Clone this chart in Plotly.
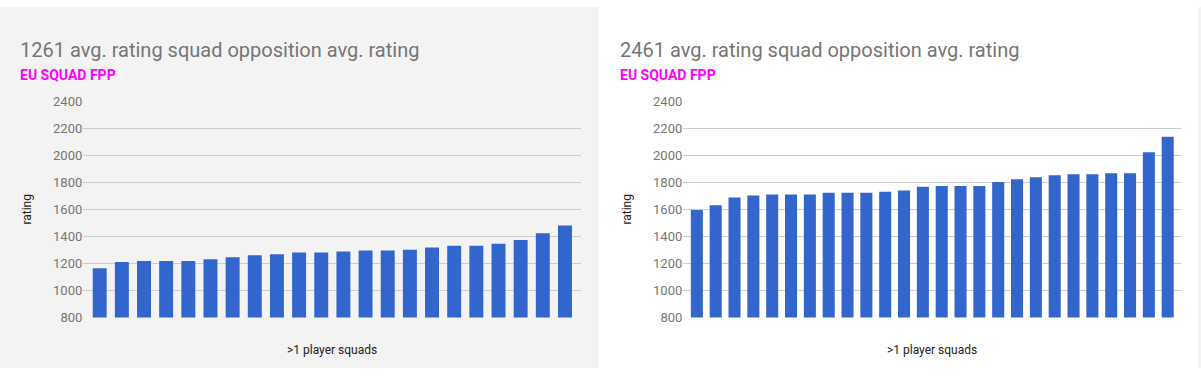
import plotly.graph_objects as go

W, H = 1201, 376

# ---- data ----
left_title = "1261 avg. rating squad opposition avg. rating"
right_title = "2461 avg. rating squad opposition avg. rating"
subtitle = "EU SQUAD FPP"
x_title = ">1 player squads"
y_title = "rating"

left_values = [1164, 1210, 1217, 1217, 1217, 1231, 1245, 1260, 1267, 1281, 1281,
               1288, 1295, 1295, 1302, 1317, 1331, 1331, 1345, 1374, 1424, 1481]
right_values = [1595, 1631, 1688, 1702, 1710, 1710, 1710, 1724, 1724, 1724, 1731,
                1740, 1767, 1774, 1774, 1774, 1802, 1824, 1838, 1852, 1860, 1860,
                1867, 1867, 2024, 2138]
left_cats = list(range(len(left_values)))
right_cats = list(range(len(right_values)))
y_ticks = [800, 1000, 1200, 1400, 1600, 1800, 2000, 2200, 2400]

BAR = "#3366cc"
GRID = "#cccccc"
TXT = "#757575"
FONT = "Roboto"


def px_x(p):
    return p / W


def px_y(p):
    return 1 - p / H


fig = go.Figure()
fig.add_trace(go.Bar(x=left_cats, y=left_values, marker=dict(color=BAR, line=dict(width=0)),
                     xaxis="x", yaxis="y", width=0.63, hoverinfo="y"))
fig.add_trace(go.Bar(x=right_cats, y=right_values, marker=dict(color=BAR, line=dict(width=0)),
                     xaxis="x2", yaxis="y2", width=0.64, hoverinfo="y"))

ydom = [px_y(323.3), px_y(98.3)]
yax = dict(range=[800, 2400], tickvals=y_ticks, showgrid=True, gridcolor=GRID, gridwidth=1,
           zeroline=False, showline=False, ticks="", tickfont=dict(family=FONT, size=13, color=TXT),
           domain=ydom, fixedrange=True)
xax = dict(showticklabels=False, showgrid=False, zeroline=False, showline=False, ticks="",
           fixedrange=True)

fig.update_layout(
    width=W, height=H,
    margin=dict(l=0, r=0, t=0, b=0),
    paper_bgcolor="#ffffff",
    plot_bgcolor="rgba(0,0,0,0)",
    showlegend=False,
    font=dict(family=FONT, color=TXT),
    xaxis=dict(xax, domain=[px_x(83.3), px_x(580.7)], range=[-0.74, len(left_values) - 0.29], anchor="y"),
    yaxis=dict(yax, anchor="x"),
    xaxis2=dict(xax, domain=[px_x(683.3), px_x(1180.7)], range=[-0.72, len(right_values) - 0.31], anchor="y2"),
    yaxis2=dict(yax, anchor="x2"),
    shapes=[
        dict(type="rect", xref="paper", yref="paper", x0=0, x1=px_x(598.7), y0=0, y1=1,
             fillcolor="#f3f3f3", line=dict(width=0), layer="below"),
        dict(type="rect", xref="paper", yref="paper", x0=px_x(1198), x1=1, y0=0, y1=1,
             fillcolor="#f3f3f3", line=dict(width=0), layer="below"),
    ],
)

ann = []
for x0, title, xc, ytx in [(18, left_title, 332, 27), (618, right_title, 932, 627)]:
    ann.append(dict(text=title, x=px_x(x0), y=px_y(44.5), xref="paper", yref="paper",
                    xanchor="left", yanchor="middle", showarrow=False,
                    font=dict(family=FONT, size=20, color=TXT)))
    ann.append(dict(text="<b>" + subtitle + "</b>", x=px_x(x0), y=px_y(70.5), xref="paper", yref="paper",
                    xanchor="left", yanchor="middle", showarrow=False,
                    font=dict(family=FONT, size=14, color="#ff00ff")))
    ann.append(dict(text=x_title, x=px_x(xc), y=px_y(357), xref="paper", yref="paper",
                    xanchor="center", yanchor="middle", showarrow=False,
                    font=dict(family=FONT, size=12, color="#222222")))
    ann.append(dict(text=y_title, x=px_x(ytx), y=px_y(211), xref="paper", yref="paper",
                    xanchor="center", yanchor="middle", showarrow=False, textangle=-90,
                    font=dict(family=FONT, size=12, color="#222222")))
fig.update_layout(annotations=ann)

fig.write_html(
    "out.html",
    config={"displayModeBar": False, "responsive": False},
    post_script="document.body.style.margin='0';document.body.style.padding='0';"
                "document.documentElement.style.overflow='hidden';"
                "var d=document.getElementById('{plot_id}');"
                "d.style.position='fixed';d.style.top='0px';d.style.left='0px';",
)
